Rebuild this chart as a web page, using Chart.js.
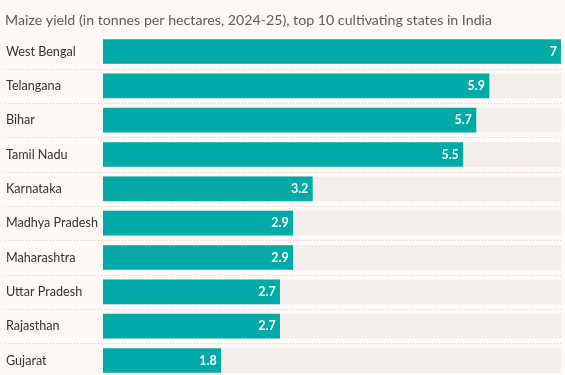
<!DOCTYPE html>
<html>
<head>
<meta charset="utf-8">
<script src="https://cdn.jsdelivr.net/npm/chart.js@4"></script>
<style>
  html, body { margin: 0; padding: 0; background: #fef8f7; overflow: hidden; }
  #wrap { position: relative; width: 565px; height: 378px; }
</style>
</head>
<body>
<div id="wrap"><canvas id="c" width="565" height="378"></canvas></div>
<script>
const titleText = "Maize yield (in tonnes per hectares, 2024-25), top 10 cultivating states in India";
const states = ["West Bengal", "Telangana", "Bihar", "Tamil Nadu", "Karnataka", "Madhya Pradesh", "Maharashtra", "Uttar Pradesh", "Rajasthan", "Gujarat"];
const yields = [7, 5.9, 5.7, 5.5, 3.2, 2.9, 2.9, 2.7, 2.7, 1.8];
const scaleMax = 7;
const track = states.map(() => scaleMax);

const FONT = "Lato, sans-serif";

const decor = {
  id: 'decor',
  beforeDatasetsDraw(chart) {
    const ctx = chart.ctx;
    const meta = chart.getDatasetMeta(0);
    ctx.save();
    // title
    ctx.fillStyle = '#5d5d5d';
    ctx.font = '14.2px ' + FONT;
    ctx.textBaseline = 'alphabetic';
    ctx.textAlign = 'left';
    ctx.fillText(titleText, 5, 25);
    // separators
    ctx.strokeStyle = '#d6cccb';
    ctx.lineWidth = 1;
    ctx.setLineDash([1, 2]);
    for (let i = 0; i < meta.data.length - 1; i++) {
      const y = Math.round((meta.data[i].y + meta.data[i + 1].y) / 2) + 0.5;
      ctx.beginPath();
      ctx.moveTo(5, y);
      ctx.lineTo(chart.chartArea.right, y);
      ctx.stroke();
    }
    ctx.setLineDash([]);
    // category labels
    ctx.fillStyle = '#333333';
    ctx.font = '12.6px ' + FONT;
    ctx.textBaseline = 'middle';
    meta.data.forEach((bar, i) => {
      ctx.fillText(states[i], 6, bar.y);
    });
    ctx.restore();
  },
  afterDatasetsDraw(chart) {
    const ctx = chart.ctx;
    const meta = chart.getDatasetMeta(0);
    ctx.save();
    ctx.fillStyle = '#ffffff';
    ctx.font = 'bold 12.5px ' + FONT;
    ctx.textAlign = 'right';
    ctx.textBaseline = 'middle';
    meta.data.forEach((bar, i) => {
      ctx.fillText(String(yields[i]), bar.x - 4, bar.y);
    });
    ctx.restore();
  }
};

new Chart(document.getElementById('c'), {
  type: 'bar',
  data: {
    labels: states,
    datasets: [
      { data: yields, backgroundColor: '#00aaa6', barThickness: 24, grouped: false, order: 1 },
      { data: track, backgroundColor: '#f3edeb', barThickness: 24, grouped: false, order: 2 }
    ]
  },
  options: {
    indexAxis: 'y',
    responsive: false,
    animation: false,
    events: [],
    layout: { padding: { left: 103, right: 4, top: 34.33, bottom: 0.33 } },
    scales: {
      x: { display: false, min: 0, max: scaleMax },
      y: { display: false }
    },
    plugins: { legend: { display: false }, tooltip: { enabled: false } }
  },
  plugins: [decor]
});
</script>
</body>
</html>
